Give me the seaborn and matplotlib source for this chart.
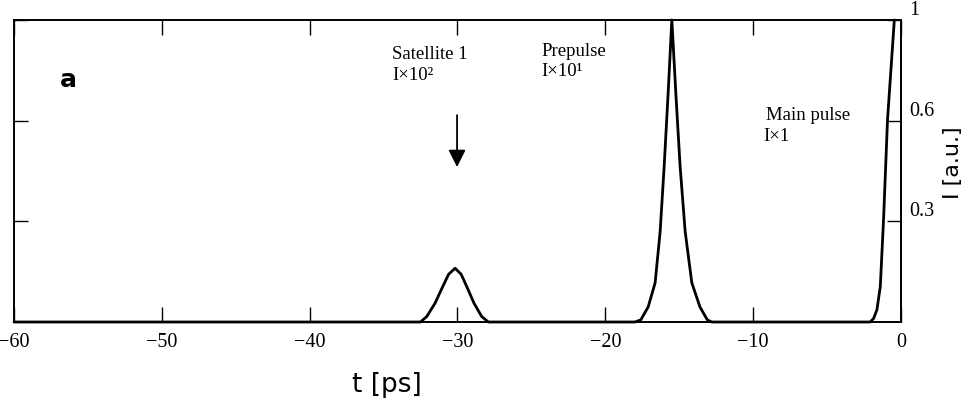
import pandas as pd
import seaborn as sns
import matplotlib.pyplot as plt

# pulse shapes (t in ps, intensity in a.u., already scaled)
sat_t = [-32.5, -32.08, -31.52, -31.0, -30.6, -30.16, -29.75, -29.37, -28.88, -28.36, -27.91]
sat_I = [0.0, 0.018, 0.062, 0.117, 0.158, 0.178, 0.158, 0.117, 0.062, 0.018, 0.0]

pre_t = [-18.0, -17.6, -17.1, -16.63, -16.29, -16.02, -15.77, -15.5,
         -15.21, -14.94, -14.6, -14.15, -13.6, -13.1, -12.8]
pre_I = [0.0, 0.007, 0.05, 0.13, 0.30, 0.515, 0.74, 1.0,
         0.74, 0.515, 0.30, 0.13, 0.05, 0.007, 0.0]

main_t = [-2.08, -1.85, -1.63, -1.40, -1.18, -0.91, -0.45]
main_I = [0.0, 0.012, 0.04, 0.117, 0.339, 0.671, 1.0]

x_ticks = [-60, -50, -40, -30, -20, -10, 0]
y_ticks = [1 / 3, 2 / 3, 1.0]
y_tick_labels = ['0.3', '0.6', '1']

data = pd.DataFrame({
    't': [-60.0] + sat_t + pre_t + main_t,
    'I': [0.0] + sat_I + pre_I + main_I,
})

sns.set_style('ticks')
plt.rcParams['font.family'] = ['Liberation Serif', 'DejaVu Serif']
plt.rcParams['text.color'] = 'black'
plt.rcParams['axes.labelcolor'] = 'black'

fig = plt.figure(figsize = (9.77, 4.0), dpi = 100)
ax = fig.add_axes([0.0143, 0.195, 0.9079, 0.755])

sns.lineplot(x = 't', y = 'I', data = data, sort = False, color = 'black', linewidth = 2.0, ax = ax)
ax.lines[0].set_clip_on(False)

ax.set_xlim(-60, 0)
ax.set_ylim(0, 1.0)

for side in ['top', 'bottom', 'left', 'right']:
    ax.spines[side].set_visible(True)
    ax.spines[side].set_linewidth(1.4)
    ax.spines[side].set_color('black')

ax.set_xticks(x_ticks)
ax.set_xticklabels([f'\u2212{abs(v)}' if v < 0 else str(v) for v in x_ticks])
ax.tick_params(axis = 'x', direction = 'in', length = 11, width = 1.0, top = True,
               bottom = True, labelsize = 14.5, pad = 8, colors = 'black')

ax.set_yticks(y_ticks)
ax.set_yticklabels(y_tick_labels)
ax.yaxis.tick_right()
ax.tick_params(axis = 'y', direction = 'in', length = 10, width = 1.0, left = True,
               right = True, labelleft = False, labelright = True, labelsize = 14.5,
               pad = 6, colors = 'black')
for lab in ax.get_yticklabels():
    lab.set_va('bottom')

ax.set_xlabel('t [ps]', fontsize = 19, family = 'DejaVu Sans')
ax.xaxis.set_label_coords(0.42, -0.165)
ax.yaxis.set_label_position('right')
ax.set_ylabel('I [a.u.]', fontsize = 16, family = 'DejaVu Sans')
ax.yaxis.set_label_coords(1.047, 0.527)

ax.text(-56.35, 0.80, 'a', fontsize = 18, fontweight = 'bold', family = 'DejaVu Sans',
        ha = 'center', va = 'center')

ax.text(-34.4, 0.885, 'Satellite 1', fontsize = 13.5, ha = 'left', va = 'center')
ax.text(-34.4, 0.815, 'I\u00d710\u00b2', fontsize = 13.5, ha = 'left', va = 'center')
ax.text(-24.35, 0.895, 'Prepulse', fontsize = 13.5, ha = 'left', va = 'center')
ax.text(-24.3, 0.828, 'I\u00d710\u00b9', fontsize = 13.5, ha = 'left', va = 'center')
ax.text(-9.1, 0.685, 'Main pulse', fontsize = 13.5, ha = 'left', va = 'center')
ax.text(-9.3, 0.613, 'I\u00d71', fontsize = 13.5, ha = 'left', va = 'center')

ax.annotate('', xy = (-30.03, 0.513), xytext = (-30.03, 0.685),
            arrowprops = dict(arrowstyle = '-|>', color = 'black', lw = 1.3,
                              mutation_scale = 26, shrinkA = 0, shrinkB = 0))

fig.savefig('out.png', dpi = 100)
